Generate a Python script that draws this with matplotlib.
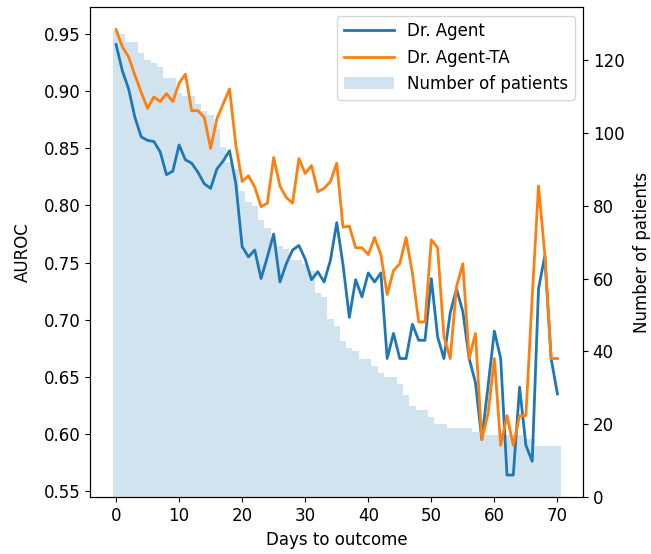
import matplotlib
matplotlib.use("Agg")
import matplotlib.pyplot as plt
import numpy as np

days = list(range(71))

dr_agent = [0.941, 0.918, 0.902, 0.877, 0.860, 0.857, 0.856, 0.847, 0.827, 0.830,
            0.853, 0.840, 0.837, 0.829, 0.819, 0.815, 0.832, 0.839, 0.848, 0.819,
            0.764, 0.755, 0.761, 0.736, 0.755, 0.775, 0.733, 0.749, 0.761, 0.765,
            0.753, 0.735, 0.742, 0.733, 0.752, 0.785, 0.748, 0.702, 0.735, 0.720,
            0.741, 0.733, 0.741, 0.666, 0.688, 0.666, 0.666, 0.696, 0.682, 0.682,
            0.736, 0.685, 0.666, 0.706, 0.727, 0.707, 0.666, 0.645, 0.595, 0.642,
            0.690, 0.666, 0.564, 0.564, 0.641, 0.590, 0.576, 0.727, 0.756, 0.666,
            0.635]

dr_agent_ta = [0.954, 0.939, 0.930, 0.914, 0.899, 0.885, 0.895, 0.891, 0.898, 0.891,
               0.907, 0.915, 0.883, 0.883, 0.877, 0.850, 0.876, 0.889, 0.902, 0.853,
               0.821, 0.826, 0.816, 0.799, 0.802, 0.842, 0.817, 0.807, 0.802, 0.841,
               0.828, 0.835, 0.812, 0.815, 0.821, 0.837, 0.781, 0.782, 0.763, 0.763,
               0.757, 0.772, 0.757, 0.722, 0.743, 0.749, 0.772, 0.741, 0.698, 0.698,
               0.770, 0.763, 0.685, 0.666, 0.729, 0.749, 0.666, 0.688, 0.595, 0.618,
               0.666, 0.590, 0.616, 0.590, 0.616, 0.616, 0.720, 0.817, 0.757, 0.666,
               0.666]

patients = [128, 127, 125, 125, 122, 120, 119, 118, 115, 115,
            111, 110, 110, 108, 106, 105, 101, 96, 92, 90,
            84, 81, 80, 76, 74, 70, 69, 68, 65, 65,
            64, 62, 56, 55, 49, 47, 43, 41, 40, 38,
            38, 36, 34, 33, 33, 31, 28, 25, 24, 24,
            22, 20, 20, 19, 19, 19, 19, 18, 17, 17,
            17, 17, 17, 17, 17, 16, 16, 14, 14, 14,
            14]

plt.rcParams['font.size'] = 12

fig = plt.figure(figsize=(6.51, 5.54), dpi=100)
ax = fig.add_axes([0.139, 0.1023, 0.8955 - 0.139, 0.9868 - 0.1023])
ax2 = ax.twinx()
ax.set_zorder(ax2.get_zorder() + 1)
ax.patch.set_visible(False)

bars = ax2.bar(days, patients, width=1.0, color='tab:blue', alpha=0.2,
               label='Number of patients')
l1, = ax.plot(days, dr_agent, color='tab:blue', lw=2, label='Dr. Agent')
l2, = ax.plot(days, dr_agent_ta, color='tab:orange', lw=2, label='Dr. Agent-TA')

ax.set_xlabel('Days to outcome')
ax.set_ylabel('AUROC', labelpad=9)
ax2.set_ylabel('Number of patients', labelpad=6)
ax.set_xticks([0, 10, 20, 30, 40, 50, 60, 70])
ax.set_yticks([0.55, 0.60, 0.65, 0.70, 0.75, 0.80, 0.85, 0.90, 0.95])
ax2.set_yticks([0, 20, 40, 60, 80, 100, 120])

ax.legend(handles=[l1, l2, bars], loc='upper right', handlelength=3)

fig.savefig('out.png', dpi=100)
